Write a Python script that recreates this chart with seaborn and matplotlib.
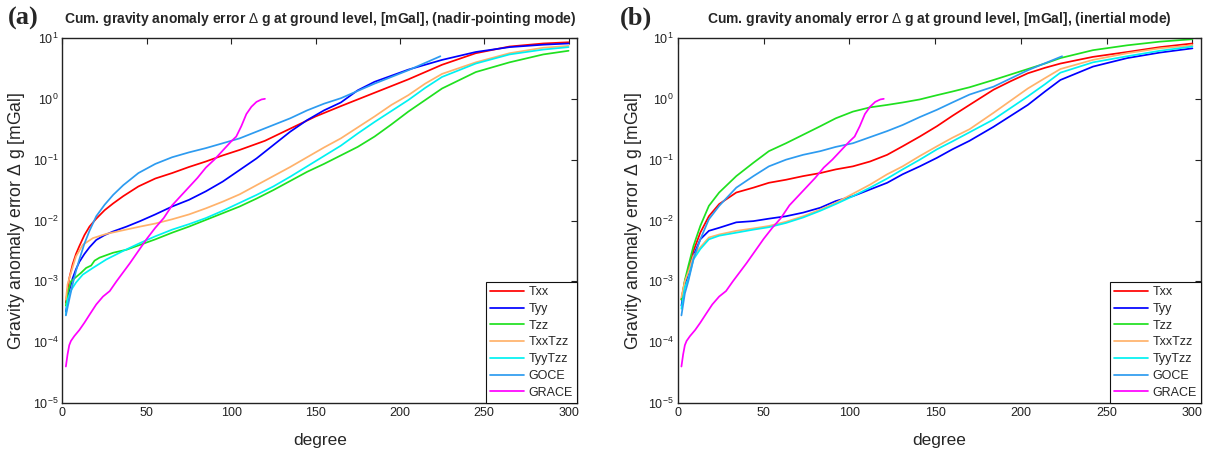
import numpy as np
import pandas as pd
import matplotlib
matplotlib.use("Agg")
import matplotlib.pyplot as plt
import seaborn as sns
from matplotlib.ticker import FixedLocator, LogFormatterSciNotation, NullLocator

# ---------------- data (log10 of cumulative error in mGal) ----------------
names = ["Txx", "Tyy", "Tzz", "TxxTzz", "TyyTzz", "GOCE", "GRACE"]
colors = ["#FF0000", "#0000FF", "#1FE01F", "#FFB26B", "#00F2F2", "#2D9BF0", "#FF00FF"]

grace_deg = [2, 3, 4, 5, 7, 10, 13, 16, 20, 24, 28, 32, 36, 40, 45, 50, 55, 60, 65, 70, 75, 80,
             85, 90, 95, 100, 103, 106, 109, 112, 115, 118, 120]
grace_log = [-4.4, -4.2, -4.05, -3.98, -3.9, -3.8, -3.68, -3.55, -3.38, -3.25, -3.16, -3.0, -2.85,
             -2.7, -2.5, -2.3, -2.12, -1.96, -1.75, -1.6, -1.45, -1.3, -1.13, -1.0, -0.85, -0.7,
             -0.62, -0.45, -0.25, -0.13, -0.05, -0.01, 0.0]

# panel (a): nadir-pointing mode
txx_a_deg = [2, 4, 6, 8, 10, 13, 16, 20, 25, 30, 36, 45, 55, 65, 75, 85, 95, 105, 120, 135, 150,
             165, 185, 205, 225, 245, 265, 285, 300]
txx_a_log = [-3.35, -2.95, -2.72, -2.55, -2.42, -2.24, -2.1, -1.97, -1.83, -1.72, -1.6, -1.44,
             -1.31, -1.22, -1.12, -1.03, -0.93, -0.84, -0.69, -0.49, -0.29, -0.12, 0.1, 0.32, 0.56,
             0.75, 0.86, 0.91, 0.93]

tyy_a_deg = [2, 4, 6, 8, 10, 13, 16, 20, 25, 30, 38, 46, 55, 65, 75, 85, 95, 105, 115, 125, 135,
             145, 155, 165, 175, 185, 205, 225, 245, 265, 285, 300]
tyy_a_log = [-3.5, -3.15, -2.95, -2.8, -2.68, -2.55, -2.44, -2.32, -2.24, -2.18, -2.1, -2.01, -1.9,
             -1.77, -1.66, -1.52, -1.36, -1.17, -0.98, -0.76, -0.54, -0.35, -0.19, -0.06, 0.14,
             0.28, 0.48, 0.64, 0.77, 0.85, 0.89, 0.91]

tzz_a_deg = [2, 3, 5, 8, 11, 14, 17, 19, 22, 26, 30, 38, 46, 55, 65, 75, 85, 95, 105, 115, 125,
             135, 145, 155, 165, 175, 185, 195, 205, 215, 225, 245, 265, 285, 300]
tzz_a_log = [-3.4, -3.2, -3.0, -2.93, -2.86, -2.78, -2.74, -2.66, -2.61, -2.57, -2.53, -2.48, -2.4,
             -2.31, -2.2, -2.1, -1.99, -1.88, -1.77, -1.64, -1.5, -1.35, -1.2, -1.07, -0.93, -0.79,
             -0.62, -0.42, -0.21, -0.02, 0.17, 0.44, 0.6, 0.73, 0.79]

txxtzz_a_deg = [2, 3, 5, 8, 12, 18, 26, 36, 46, 55, 65, 75, 85, 95, 105, 115, 125, 135, 145, 155,
                165, 175, 185, 195, 205, 215, 225, 245, 265, 285, 300]
txxtzz_a_log = [-3.3, -3.05, -2.86, -2.59, -2.4, -2.29, -2.22, -2.16, -2.1, -2.05, -1.98, -1.9,
                -1.8, -1.69, -1.57, -1.42, -1.27, -1.12, -0.96, -0.8, -0.65, -0.47, -0.29, -0.1,
                0.06, 0.25, 0.41, 0.6, 0.75, 0.84, 0.87]

tyytzz_a_deg = [2, 3, 5, 8, 12, 18, 26, 36, 46, 55, 65, 75, 85, 95, 105, 115, 125, 135, 145, 155,
                165, 175, 185, 195, 205, 215, 225, 245, 265, 285, 300]
tyytzz_a_log = [-3.55, -3.3, -3.15, -3.02, -2.89, -2.78, -2.64, -2.5, -2.37, -2.26, -2.15, -2.06,
                -1.96, -1.84, -1.71, -1.58, -1.44, -1.28, -1.11, -0.94, -0.77, -0.57, -0.38, -0.2,
                -0.02, 0.18, 0.36, 0.58, 0.73, 0.81, 0.85]

goce_a_deg = [2, 4, 6, 8, 10, 13, 16, 20, 25, 30, 36, 45, 55, 65, 75, 85, 95, 105, 115, 125, 135,
              145, 155, 165, 185, 205, 224]
goce_a_log = [-3.56, -3.3, -3.05, -2.83, -2.64, -2.38, -2.17, -1.93, -1.74, -1.58, -1.42, -1.22,
              -1.07, -0.96, -0.88, -0.81, -0.73, -0.65, -0.54, -0.43, -0.32, -0.19, -0.08, 0.01,
              0.25, 0.47, 0.7]

# panel (b): inertial mode
std_b_deg = [2, 4, 6, 9, 13, 18, 24, 34, 44, 53, 63, 73, 83, 92, 102, 112, 122, 131, 141, 151,
             160, 170, 184, 194, 204, 214, 223, 242, 262, 281, 300]

txx_b_log = [-3.3, -3.0, -2.82, -2.5, -2.2, -1.93, -1.73, -1.54, -1.46, -1.38, -1.33, -1.27, -1.22,
             -1.16, -1.11, -1.03, -0.92, -0.78, -0.62, -0.45, -0.28, -0.1, 0.15, 0.29, 0.42, 0.51,
             0.58, 0.69, 0.77, 0.85, 0.91]
tyy_b_log = [-3.4, -3.05, -2.88, -2.58, -2.31, -2.17, -2.12, -2.03, -2.01, -1.97, -1.93, -1.87,
             -1.79, -1.68, -1.6, -1.49, -1.38, -1.24, -1.11, -0.97, -0.83, -0.69, -0.46, -0.28,
             -0.1, 0.12, 0.31, 0.53, 0.67, 0.76, 0.83]
tzz_b_log = [-3.3, -2.98, -2.75, -2.42, -2.09, -1.76, -1.54, -1.27, -1.05, -0.86, -0.73, -0.59,
             -0.45, -0.32, -0.21, -0.14, -0.1, -0.06, -0.01, 0.06, 0.12, 0.19, 0.31, 0.4, 0.49,
             0.58, 0.67, 0.8, 0.88, 0.94, 0.98]
txxtzz_b_log = [-3.26, -3.0, -2.85, -2.58, -2.44, -2.28, -2.23, -2.17, -2.13, -2.09, -2.02, -1.93,
                -1.82, -1.71, -1.56, -1.41, -1.24, -1.11, -0.94, -0.78, -0.64, -0.5, -0.23, -0.03,
                0.17, 0.34, 0.49, 0.64, 0.75, 0.83, 0.88]
tyytzz_b_log = [-3.45, -3.1, -2.96, -2.64, -2.47, -2.31, -2.25, -2.2, -2.15, -2.11, -2.04, -1.95,
                -1.84, -1.73, -1.6, -1.46, -1.31, -1.16, -1.0, -0.83, -0.7, -0.55, -0.34, -0.15,
                0.04, 0.24, 0.43, 0.6, 0.7, 0.79, 0.86]
goce_b_deg = [2, 4, 6, 9, 13, 18, 24, 34, 44, 53, 63, 73, 83, 92, 102, 112, 122, 131, 141, 151,
              160, 170, 184, 204, 224]
goce_b_log = [-3.56, -3.2, -3.0, -2.64, -2.31, -1.98, -1.76, -1.46, -1.27, -1.11, -1.0, -0.92,
              -0.86, -0.79, -0.73, -0.63, -0.53, -0.43, -0.3, -0.18, -0.06, 0.07, 0.2, 0.47, 0.7]

titles = ["Cum. gravity anomaly error $\\Delta$ g at ground level, [mGal], (nadir-pointing mode)",
          "Cum. gravity anomaly error $\\Delta$ g at ground level, [mGal], (inertial mode)"]
panel_labels = ["(a)", "(b)"]
xticks = [0, 50, 100, 150, 200, 250, 300]
yticks = [1e-5, 1e-4, 1e-3, 1e-2, 1e-1, 1e0, 1e1]
x_label = "degree"
y_label = "Gravity anomaly error $\\Delta$ g [mGal]"

panel_a = [(txx_a_deg, txx_a_log), (tyy_a_deg, tyy_a_log), (tzz_a_deg, tzz_a_log),
           (txxtzz_a_deg, txxtzz_a_log), (tyytzz_a_deg, tyytzz_a_log),
           (goce_a_deg, goce_a_log), (grace_deg, grace_log)]
panel_b = [(std_b_deg, txx_b_log), (std_b_deg, tyy_b_log), (std_b_deg, tzz_b_log),
           (std_b_deg, txxtzz_b_log), (std_b_deg, tyytzz_b_log),
           (goce_b_deg, goce_b_log), (grace_deg, grace_log)]

# ---------------- style ----------------
sns.set_style("white")
plt.rcParams["font.family"] = ["Liberation Sans", "DejaVu Sans"]
plt.rcParams["mathtext.fontset"] = "custom"
plt.rcParams["mathtext.rm"] = "Liberation Sans"
plt.rcParams["mathtext.it"] = "Liberation Sans:italic"
plt.rcParams["mathtext.bf"] = "Liberation Sans:bold"

W, H = 1211, 451
fig = plt.figure(figsize=(W / 100, H / 100), dpi=100)
boxes = [(62.5, 38, 577, 403), (678, 38, 1201, 403)]
label_x = [8, 620]

for i, (panel, box) in enumerate(zip([panel_a, panel_b], boxes)):
    x0, y0, x1, y1 = box
    aw, ah = x1 - x0, y1 - y0
    ax = fig.add_axes([x0 / W, 1 - y1 / H, aw / W, ah / H])
    for (deg, lg), name, col in zip(panel, names, colors):
        df = pd.DataFrame({"degree": deg, "err": np.power(10.0, lg)})
        sns.lineplot(data=df, x="degree", y="err", ax=ax, color=col, lw=1.25,
                     label=name, estimator=None, sort=False)
    ax.set_yscale("log")
    ax.set_ylim(1e-5, 10)
    ax.set_xlim(0, 305)
    ax.set_xticks(xticks)
    ax.yaxis.set_major_locator(FixedLocator(yticks))
    ax.yaxis.set_major_formatter(LogFormatterSciNotation())
    ax.yaxis.set_minor_locator(NullLocator())
    ax.tick_params(direction="in", length=4, width=0.8, labelsize=9, top=True, right=True,
                   colors="#222222", pad=3)
    for s in ax.spines.values():
        s.set_color("#222222")
        s.set_linewidth(1.0)
    ax.set_xlabel(x_label, fontsize=12.5, va="center")
    ax.xaxis.set_label_coords(0.5, -(440 - y1) / ah)
    ax.set_ylabel(y_label, fontsize=12.7, va="center")
    ax.yaxis.set_label_coords(-(x0 - (17 + 616 * i)) / aw, 0.5)
    ax.set_title(titles[i], fontsize=10, fontweight="bold", pad=11)
    fig.text(label_x[i] / W, 1 - 18 / H, panel_labels[i], family="Liberation Serif",
             fontweight="bold", fontsize=19, ha="left", va="center")
    leg = ax.legend(loc="lower right", fontsize=9, frameon=True, fancybox=False,
                    framealpha=1, edgecolor="#111111", borderaxespad=0, handlelength=2.7,
                    handletextpad=0.35, labelspacing=0.38, borderpad=0.35)
    leg.get_frame().set_linewidth(0.8)

fig.savefig("out.png", dpi=100)
